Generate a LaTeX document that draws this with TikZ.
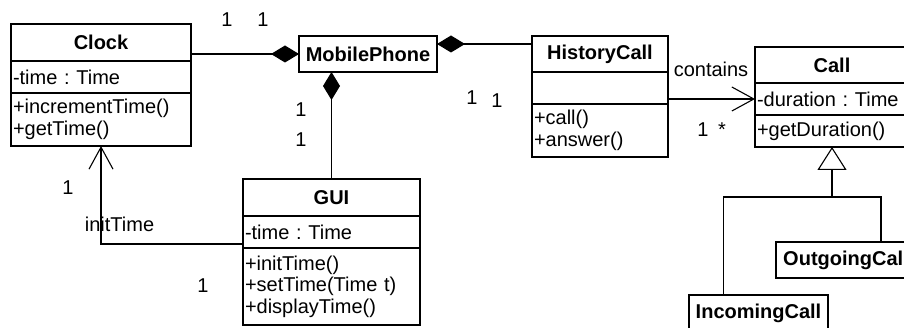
\documentclass[tikz,border=0pt]{standalone}
\usepackage{fontspec}
\setmainfont{Liberation Sans}
\usetikzlibrary{arrows.meta,calc}
\frenchspacing

\tikzset{every picture/.style={line width=1.1pt}}

\begin{document}
\begin{tikzpicture}[x=1pt,y=1pt,yscale=-1,xscale=1,
  font=\fontsize{20}{21.5}\selectfont,
  namebox/.style={draw, line width=2pt, anchor=north west, outer sep=0pt, inner sep=0pt, font=\fontsize{20}{21.5}\selectfont\bfseries},
  membox/.style={draw, line width=2pt, anchor=north west, outer sep=0pt, inner xsep=2pt, inner ysep=0pt, align=left},
  lbl/.style={anchor=base, inner sep=0pt},
  compose/.style={-{Diamond[length=28pt,width=17pt]}},
  assoc/.style={-{Straight Barb[length=22pt,width=24pt]}},
  inherit/.style={-{Triangle[open,length=23pt,width=29pt,fill=white]}}]
\useasboundingbox (0,0) rectangle (904,328);
\clip (0,0) rectangle (904,328);

%Class: Clock
\draw (11,24) node [namebox, minimum width=180pt, minimum height=37pt] (clock) {Clock};
\draw (11,61) node [membox, text width=176pt, minimum height=32pt] (clockattr) {-time : Time};
\draw (11,93) node [membox, text width=176pt, minimum height=53pt] (clockops) {+incrementTime()\\+getTime()};
%Class: MobilePhone
\draw (299,36) node [namebox, minimum width=138pt, minimum height=36pt] (mobile) {MobilePhone};
%Class: HistoryCall
\draw (532,36) node [namebox, minimum width=136pt, minimum height=36pt] (hist) {HistoryCall};
\draw (532,72) node [membox, text width=132pt, minimum height=32pt] (histattr) {};
\draw (532,104) node [membox, text width=132pt, minimum height=53pt] (histops) {+call()\\+answer()};
%Class: Call
\draw (755,47) node [namebox, minimum width=154pt, minimum height=36pt] (call) {Call};
\draw (755,83) node [membox, text width=150pt, minimum height=32pt] (callattr) {-duration : Time};
\draw (755,115) node [membox, text width=150pt, minimum height=32pt] (callops) {+getDuration()};
%Class: GUI
\draw (243,179) node [namebox, minimum width=177pt, minimum height=37pt] (gui) {GUI};
\draw (243,216) node [membox, text width=173pt, minimum height=32pt] (guiattr) {-time : Time};
\draw (243,248) node [membox, text width=173pt, minimum height=77pt] (guiops) {+initTime()\\+setTime(Time t)\\+displayTime()};
%Class: OutgoingCall
\draw (776,242) node [namebox, minimum width=140pt, minimum height=36pt] (outgoing) {OutgoingCall};
%Class: IncomingCall
\draw (689,295) node [namebox, minimum width=139pt, minimum height=36pt] (incoming) {IncomingCall};

%Composition: Clock - MobilePhone
\draw [compose] (clock.east |- mobile.west) -- (mobile.west);
%Composition: HistoryCall - MobilePhone
\draw [compose] ([yshift=-10pt]hist.west) -- ([yshift=-10pt]mobile.east);
%Composition: GUI - MobilePhone
\draw [compose] (gui.north) -- (gui.north |- mobile.south);
%Association: contains
\draw [assoc] (callattr.west -| histattr.east) -- (callattr.west);
%Association: initTime
\draw [assoc] ([yshift=-4pt]guiops.north west) -| (clockops.south);
%Generalization
\coordinate (split) at ($(callops.south)+(0,50)$);
\draw ([xshift=-35pt]incoming.north) |- (split) -| ([xshift=35pt]outgoing.north);
\draw [inherit] (split) -- (callops.south);

% Text Node
\node [lbl] (clockmult) at (227,27) {1};
\node [lbl] (mobilemultl) at (263,27) {1};
\node [lbl] (mobilemultr) at (472,105) {1};
\node [lbl] (histmult) at (497,108) {1};
\node [lbl] (mobilemultb) at (301,117) {1};
\node [lbl] (guimultt) at (301,147) {1};
\node [lbl] (containslbl) at (711,77) {contains};
\node [lbl] (histmultr) at (703,137) {1};
\node [lbl] (callmult) at (722,137) {*};
\node [lbl] (clockmultb) at (68,195) {1};
\node [lbl] (inittimelbl) at (119.5,232) {initTime};
\node [lbl] (guimultl) at (203,293) {1};
\end{tikzpicture}
\end{document}
